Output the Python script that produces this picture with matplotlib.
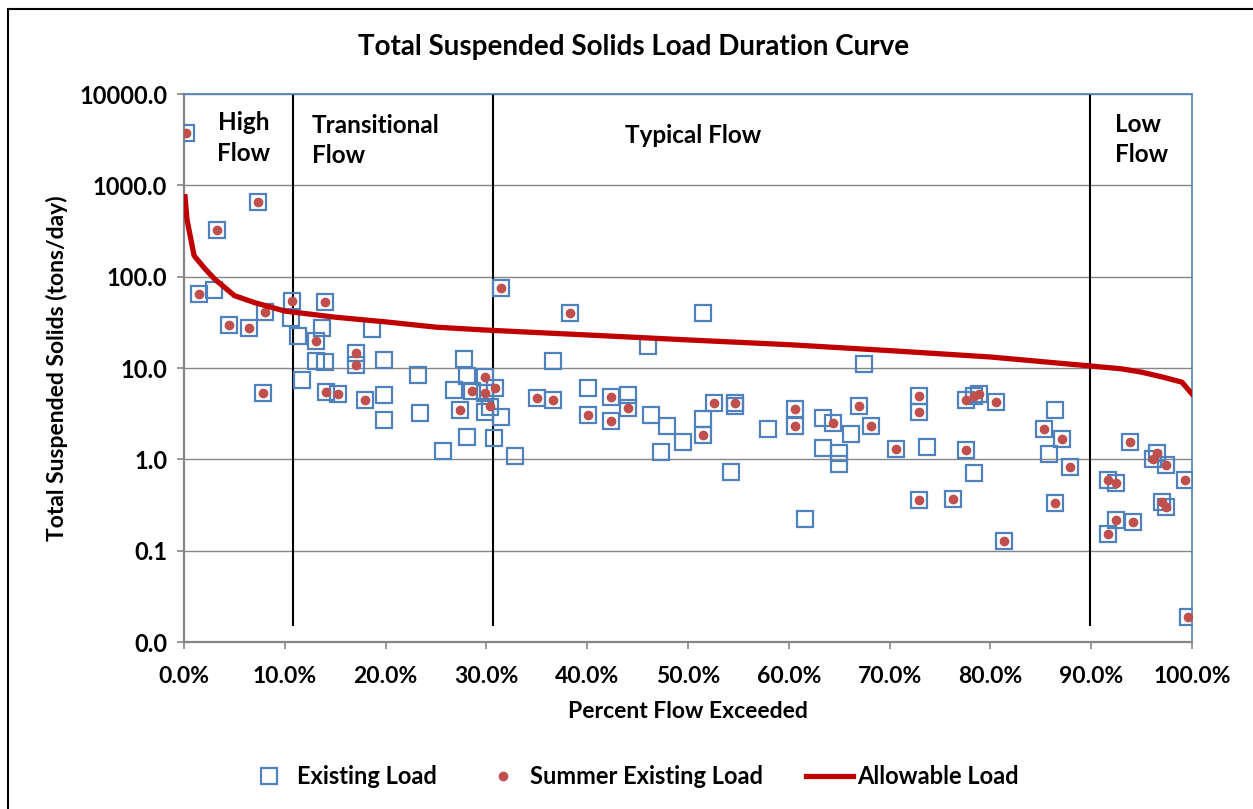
import matplotlib
matplotlib.use("Agg")
import matplotlib.pyplot as plt
from matplotlib.lines import Line2D
from matplotlib.patches import Rectangle
from matplotlib.ticker import FixedLocator, FuncFormatter, NullLocator

plt.rcParams['font.family'] = ['Lato', 'DejaVu Sans']
plt.rcParams['font.weight'] = 'bold'

# allowable load curve (percent flow exceeded, tons/day)
allow_x = [0.1, 0.3, 1.0, 2.0, 3.0, 5.0, 7.0, 10.0, 15.0, 20.0, 25.0, 30.0, 40.0,
           50.0, 60.0, 70.0, 80.0, 90.0, 93.0, 95.0, 97.0, 99.0, 100.0]
allow_y = [750, 420, 170, 125, 95, 62, 52, 42, 36, 32, 28, 26, 23,
           20.3, 18, 15.5, 13.2, 10.5, 9.8, 9.0, 8.0, 7.0, 5.2]

# existing load samples
exist_x = [0.2, 7.3, 3.3, 1.5, 3.0, 4.5, 6.4, 8.0, 10.7, 10.6, 14.0, 11.3, 13.7, 13.1,
           18.7, 13.1, 14.0, 17.1, 17.1, 19.8, 23.2, 27.8, 28.1, 29.9, 26.8, 28.6,
           29.9, 30.9, 27.4, 30.4, 29.9, 28.1, 30.8, 25.7, 7.8, 11.7, 14.1, 15.3,
           18.0, 19.8, 19.8, 23.4, 31.4, 38.3, 51.5, 46.0, 36.6, 31.4, 32.8, 40.1,
           35.0, 36.6, 40.1, 42.4, 42.4, 44.0, 44.0, 46.3, 47.9, 49.5, 47.3, 51.5,
           51.5, 52.6, 54.7, 54.7, 54.3, 57.9, 60.6, 60.6, 63.4, 64.4, 63.4, 65.0,
           65.0, 61.6, 67.5, 66.2, 67.0, 68.2, 70.6, 73.7, 72.9, 72.9, 72.9, 76.3,
           77.6, 78.4, 78.9, 80.6, 86.4, 85.3, 87.1, 85.8, 87.9, 86.4, 78.4, 77.6,
           81.3, 93.8, 91.7, 92.5, 96.5, 96.1, 97.4, 99.3, 97.0, 97.4, 92.5, 94.1,
           91.7, 99.6]
exist_y = [3770, 656, 324, 65, 71, 29.8, 27.6, 40.7, 54.6, 35.6, 52.4, 22.4, 27.4, 19.9,
           26.9, 12.0, 11.6, 14.5, 10.7, 12.2, 8.4, 12.5, 8.2, 8.0, 5.8, 5.6,
           5.3, 6.0, 3.5, 3.75, 3.3, 1.77, 1.73, 1.24, 5.3, 7.4, 5.5, 5.2,
           4.5, 5.0, 2.7, 3.2, 75, 40.3, 39.7, 17.5, 11.9, 2.9, 1.09, 6.0,
           4.66, 4.5, 3.05, 4.8, 2.6, 5.0, 3.65, 3.08, 2.33, 1.56, 1.21, 2.74,
           1.85, 4.17, 4.17, 3.8, 0.72, 2.13, 3.59, 2.32, 2.86, 2.48, 1.32, 1.18,
           0.89, 0.22, 11.1, 1.89, 3.84, 2.33, 1.31, 1.38, 4.93, 3.27, 0.361, 0.371,
           4.47, 4.9, 5.2, 4.2, 3.47, 2.16, 1.67, 1.14, 0.82, 0.33, 0.70, 1.26,
           0.129, 1.56, 0.59, 0.556, 1.18, 1.0, 0.87, 0.6, 0.344, 0.30, 0.218, 0.207,
           0.153, 0.0189]

# summer existing load samples
summer_x = [0.2, 7.3, 3.3, 1.5, 4.5, 6.4, 8.0, 10.7, 14.0, 13.1, 17.1, 17.1, 29.9, 28.6,
            29.9, 30.9, 27.4, 30.4, 7.8, 14.1, 15.3, 18.0, 31.4, 38.3, 35.0, 36.6,
            40.1, 42.4, 42.4, 44.0, 51.5, 52.6, 54.7, 60.6, 60.6, 64.4, 67.0, 68.2,
            70.6, 72.9, 72.9, 72.9, 76.3, 77.6, 78.4, 78.9, 80.6, 85.3, 87.1, 87.9,
            86.4, 77.6, 81.3, 93.8, 91.7, 92.5, 96.5, 96.1, 97.4, 99.3, 97.0, 97.4,
            92.5, 94.1, 91.7, 99.6]
summer_y = [3770, 656, 324, 65, 29.8, 27.6, 40.7, 54.6, 52.4, 19.9, 14.5, 10.7, 8.0, 5.6,
            5.3, 6.0, 3.5, 3.8, 5.3, 5.5, 5.2, 4.5, 75, 40.3, 4.66, 4.5,
            3.05, 4.8, 2.6, 3.65, 1.85, 4.17, 4.17, 3.59, 2.32, 2.48, 3.84, 2.33,
            1.31, 4.93, 3.27, 0.361, 0.371, 4.47, 4.9, 5.2, 4.2, 2.16, 1.67, 0.82,
            0.33, 1.26, 0.129, 1.56, 0.59, 0.556, 1.18, 1.0, 0.87, 0.6, 0.344, 0.30,
            0.218, 0.207, 0.153, 0.0189]

zone_edges = [10.8, 30.65, 89.9]
zone_labels = ["High\nFlow", "Transitional\nFlow", "Typical Flow", "Low\nFlow"]

blue = '#4f81bd'
red_dot = '#c0504d'
red_line = '#c00000'
gray = '#868686'

fig = plt.figure(figsize=(12.53, 8.09), dpi=100)
ax = fig.add_axes([184/1253, 1 - 642/809, (1192-184)/1253, (642-94)/809])

ax.plot(exist_x, exist_y, ls='none', marker='s', ms=11.5, mfc='none', mec=blue, mew=1.6,
        label='Existing Load', zorder=3)
ax.plot(summer_x, summer_y, ls='none', marker='o', ms=6, mfc=red_dot, mec=red_dot,
        label='Summer Existing Load', zorder=4)
ax.plot(allow_x, allow_y, color=red_line, lw=3.8, label='Allowable Load', zorder=5)

for e in zone_edges:
    ax.plot([e, e], [0.0153, 10000], color='black', lw=1.5, zorder=2)

ax.set_yscale('log')
ax.set_xlim(0, 100)
ax.set_ylim(0.01, 10000)
ax.yaxis.set_major_locator(FixedLocator([0.01, 0.1, 1, 10, 100, 1000, 10000]))
ax.yaxis.set_minor_locator(NullLocator())
ax.yaxis.set_major_formatter(FuncFormatter(lambda v, p: f"{v:.1f}"))
ax.xaxis.set_major_locator(FixedLocator(range(0, 101, 10)))
ax.xaxis.set_major_formatter(FuncFormatter(lambda v, p: f"{v:.1f}%"))
ax.grid(axis='y', color=gray, lw=1)
ax.set_axisbelow(True)

for s in ['left', 'bottom']:
    ax.spines[s].set_color(gray)
    ax.spines[s].set_linewidth(1.6)
for s in ['top', 'right']:
    ax.spines[s].set_color(blue)
    ax.spines[s].set_linewidth(1.2)
ax.tick_params(axis='both', direction='out', length=5, width=1.2, color=gray, labelsize=16.5)
ax.tick_params(axis='x', pad=12)
ax.tick_params(axis='y', pad=7, labelsize=17)
for lab in ax.get_xticklabels() + ax.get_yticklabels():
    lab.set_fontweight('bold')

ax.set_xlabel("Percent Flow Exceeded", fontsize=16.5, fontweight='bold', va='center')
ax.xaxis.set_label_coords(0.5, (642 - 712) / 548)
ax.set_ylabel("Total Suspended Solids (tons/day)", fontsize=16.5, fontweight='bold', va='center')
ax.yaxis.set_label_coords((57 - 184) / 1008, 0.5)
fig.text(633.5/1253, 1 - 47/809, "Total Suspended Solids Load Duration Curve", ha='center',
         va='center', fontsize=20, fontweight='bold')

lab_kw = dict(fontsize=17.5, fontweight='bold', va='center', linespacing=1.38)
ax.text(5.95, 3300, zone_labels[0], ha='center', **lab_kw)
ax.text(12.7, 3120, zone_labels[1], ha='left', **lab_kw)
ax.text(50.5, 3470, zone_labels[2], ha='center', **lab_kw)
ax.text(92.4, 3180, zone_labels[3], ha='left', **lab_kw)

handles = [Line2D([], [], ls='none', marker='s', ms=11.5, mfc='none', mec=blue, mew=1.6),
           Line2D([], [], ls='none', marker='o', ms=6, mfc=red_dot, mec=red_dot),
           Line2D([], [], color=red_line, lw=3.8)]
fig.legend(handles, ['Existing Load', 'Summer Existing Load', 'Allowable Load'],
           loc='center', bbox_to_anchor=(632/1253, 1 - 777/809), ncol=3, frameon=False,
           prop={'size': 17, 'weight': 'bold'}, handlelength=2, columnspacing=1.8,
           handletextpad=0.17)

fig.patches.append(Rectangle((8/1253, -0.1), 1.2, 1 - 9/809 + 0.1, transform=fig.transFigure,
                             fill=False, edgecolor='black', lw=1.5))

fig.savefig("out.png", dpi=100)
